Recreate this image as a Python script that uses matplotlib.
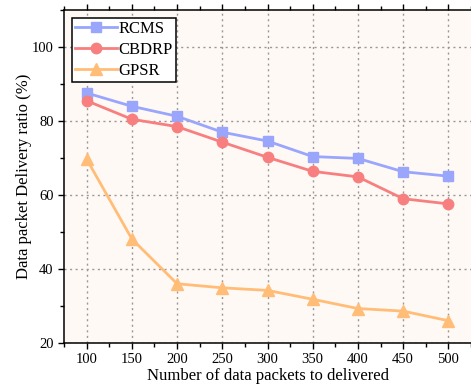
import matplotlib
matplotlib.use("Agg")
import matplotlib.pyplot as plt
from matplotlib.ticker import MultipleLocator

plt.rcParams['font.family'] = ['Liberation Serif', 'DejaVu Serif']
plt.rcParams['mathtext.fontset'] = 'stix'

# Données
packets = [100, 150, 200, 250, 300, 350, 400, 450, 500]
rcms  = [87.6, 84.0, 81.3, 77.0, 74.6, 70.4, 69.9, 66.3, 65.1]
cbdrp = [85.5, 80.5, 78.5, 74.3, 70.2, 66.4, 64.9, 59.0, 57.6]
gpsr  = [69.7, 48.1, 36.0, 34.9, 34.2, 31.8, 29.3, 28.6, 26.0]

BLUE   = "#99a6fc"
RED    = "#f77f7f"
ORANGE = "#ffbd78"

fig = plt.figure(figsize=(4.71, 3.91), dpi=100)
ax = fig.add_axes([0.136, 0.123, 0.864, 0.851])
ax.set_facecolor("#fff9f5")

ax.plot(packets, rcms, color=BLUE, marker='s', lw=2, ms=7, label="RCMS")
ax.plot(packets, cbdrp, color=RED, marker='o', lw=2, ms=7.5, label="CBDRP")
ax.plot(packets, gpsr, color=ORANGE, marker='^', lw=2, ms=8, label="GPSR")

ax.set_xlim(75, 525)
ax.set_ylim(20, 110)
ax.xaxis.set_major_locator(MultipleLocator(50))
ax.xaxis.set_minor_locator(MultipleLocator(25))
ax.yaxis.set_major_locator(MultipleLocator(20))
ax.yaxis.set_minor_locator(MultipleLocator(10))
ax.tick_params(which='both', direction='out', top=True, labelsize=10.5, width=1)
ax.tick_params(which='major', length=4)
ax.tick_params(which='minor', length=3)
ax.spines['right'].set_visible(False)
for s in ['left', 'bottom', 'top']:
    ax.spines[s].set_linewidth(1.1)

ax.grid(True, which='major', linestyle=(0, (1.5, 2.5)), color='#999999', lw=1)

ax.set_xlabel("Number of data packets to delivered", fontsize=12, labelpad=1)
ax.set_ylabel("Data packet Delivery ratio (%)", fontsize=12, labelpad=0)

leg = ax.legend(loc='upper left', fontsize=12, fancybox=False, framealpha=1,
                edgecolor='black', borderaxespad=0.45, handlelength=2.5,
                borderpad=0.2, labelspacing=0.3, handletextpad=0.1)
leg.get_frame().set_linewidth(1.1)

fig.savefig("out.png", dpi=100)
